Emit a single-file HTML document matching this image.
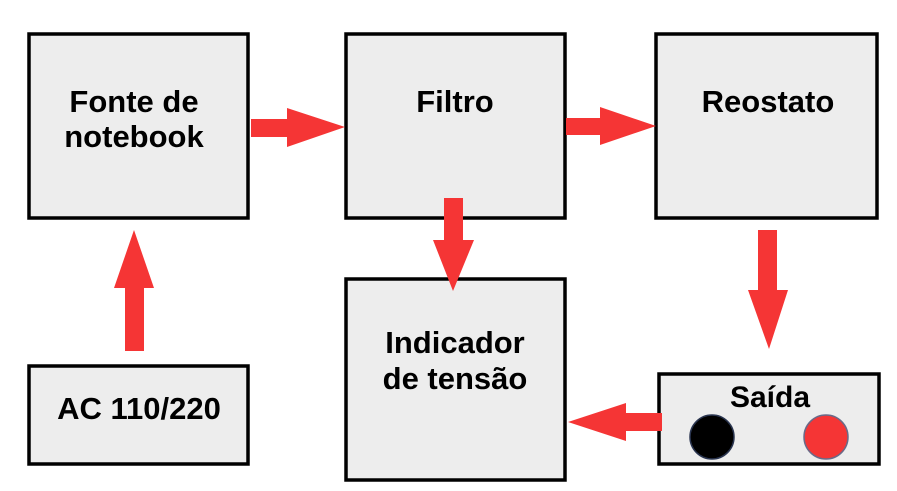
<!DOCTYPE html>
<html><head><meta charset="utf-8"><style>
body{margin:0;background:#fff;}
svg{display:block}
text{font-family:"Liberation Sans",sans-serif;font-weight:bold;fill:#000;text-anchor:middle;font-size:31px}
</style></head><body>
<svg width="897" height="491" viewBox="0 0 897 491">
<g fill="#ededed" stroke="#000" stroke-width="3.5">
<rect x="29" y="34" width="219" height="184"/>
<rect x="346" y="34" width="219" height="184"/>
<rect x="656" y="34" width="221" height="184"/>
<rect x="29" y="366" width="219" height="98"/>
<rect x="346" y="279" width="219" height="201"/>
<rect x="659" y="374" width="220" height="90"/>
</g>
<g fill="#f53535">
<polygon points="251,119 287,119 287,108 345,127 287,147 287,137 251,137"/>
<polygon points="566,118 600,118 600,107 656,126 600,145 600,135 566,135"/>
<polygon points="444,198 463,198 463,240 474,240 453,291 433,240 444,240"/>
<polygon points="758,230 777,230 777,290 788,290 769,349 748,290 758,290"/>
<polygon points="125,351 144,351 144,288 154,288 134,230 114,288 125,288"/>
<polygon points="662,413 626,413 626,403 568,422 626,441 626,431 662,431"/>
</g>
<circle cx="712" cy="437" r="22" fill="#000" stroke="#2a3550" stroke-width="1.5"/>
<circle cx="826" cy="437" r="22" fill="#f53535" stroke="#6a6a88" stroke-width="1.5"/>
<text x="134" y="112">Fonte de</text>
<text x="134" y="147">notebook</text>
<text x="455" y="112">Filtro</text>
<text x="768" y="112">Reostato</text>
<text x="455" y="353">Indicador</text>
<text x="455" y="389">de tensão</text>
<text x="139" y="419">AC 110/220</text>
<text x="770" y="407" style="font-size:30px">Saída</text>
</svg>
</body></html>
